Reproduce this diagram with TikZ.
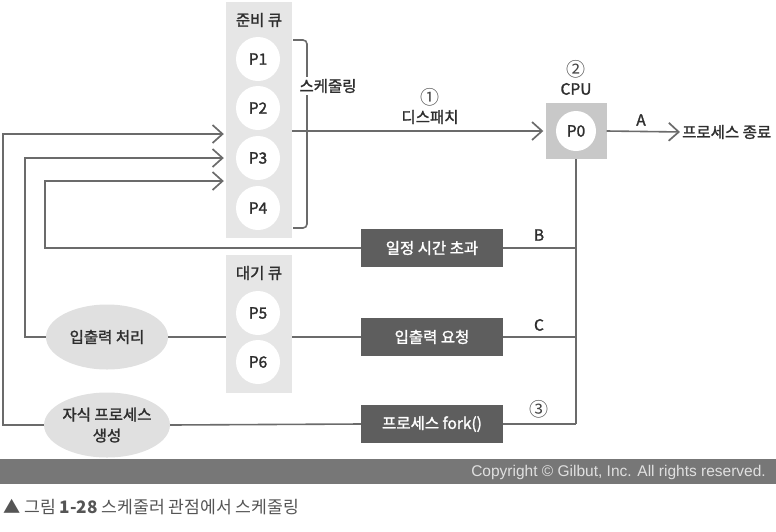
\documentclass[tikz,border=0pt]{standalone}
\usepackage{fontspec}
\setmainfont{Noto Sans CJK KR}
\newfontfamily\medfont{Noto Sans CJK KR}[FakeBold=1.6]
\newfontfamily\arialfont{Liberation Sans}
\usetikzlibrary{arrows.meta,shapes.geometric}
\definecolor{linegray}{HTML}{6B6B6B}
\definecolor{boxgray}{HTML}{5E5E5E}
\definecolor{panelgray}{HTML}{E6E6E6}
\definecolor{ellgray}{HTML}{E0E0E0}
\definecolor{cpugray}{HTML}{C8C8C8}
\definecolor{txt}{HTML}{2E2E2E}
\definecolor{numcol}{HTML}{444444}
\definecolor{barcol}{HTML}{777777}
\definecolor{capcol}{HTML}{555555}
\begin{document}
\begin{tikzpicture}[x=1pt,y=-1pt,
  every node/.style={text=txt, font=\medfont\fontsize{15.5}{18}\selectfont},
  panel/.style={fill=panelgray, draw=none, minimum width=66, inner sep=0},
  proc/.style={circle, fill=white, minimum size=44, inner sep=0},
  darkbox/.style={fill=boxgray, text=white, minimum width=142, minimum height=38, inner sep=0},
  ell/.style={ellipse, fill=ellgray, minimum width=122, minimum height=65, inner sep=0, align=center, font=\medfont\fontsize{15.5}{21}\selectfont},
  conn/.style={draw=linegray, line width=1.6pt},
  arr/.style={conn, -{Straight Barb[length=10pt, width=18pt, line width=1.7pt]}, shorten >=2pt},
  lbl/.style={inner sep=1pt},
  num/.style={inner sep=1pt, font=\fontsize{19}{20}\selectfont, text=numcol}
]
\useasboundingbox (0,0) rectangle (776,531);

% panels
\node[panel, minimum height=236] (ready) at (259,120) {};

% ellipses and boxes
\node[ell] (ioproc) at (107,337) {입출력 처리};
\node[ell] (child) at (107,425) {자식 프로세스\\생성};
\node[darkbox] (timeout) at (432,248) {일정 시간 초과};
\node[darkbox] (ioreq) at (432,337) {입출력 요청};
\node[darkbox] (fork) at (432,424) {프로세스 fork()};

% line behind wait panel
\draw[conn] (ioproc.east) -- (ioreq.west);
\node[panel, minimum height=138] (wait) at (259,324) {};

\node[lbl] (readylbl) at (259,20) {준비 큐};
\node[lbl] (waitlbl) at (259,273) {대기 큐};
\node[proc] (p1) at (258,59) {P1};
\node[proc] (p2) at (258,108) {P2};
\node[proc] (p3) at (258,158) {P3};
\node[proc] (p4) at (258,208) {P4};
\node[proc] (p5) at (258,313) {P5};
\node[proc] (p6) at (258,362) {P6};

% bracket
\coordinate (bt1) at (293,40);
\coordinate (bt2) at (307,40);
\coordinate (bb2) at (307,228);
\coordinate (bb1) at (293,228);
\draw[conn, rounded corners=4pt] (bt1) -- (bt2) -- (bb2) -- (bb1);
\node[fill=white, inner sep=2pt] (sched) at (328,86) {스케줄링};

% CPU
\node[fill=cpugray, minimum width=61, minimum height=56, inner sep=0] (cpu) at (576,131) {};
\node[proc, minimum size=40] (p0) at (cpu.center) {P0};
\node[lbl] (cpulbl) at (576,89) {CPU};
\node[num] (n2) at (576,69) {②};

% dispatch
\draw[arr] (ready.east |- cpu.west) -- (cpu.west);
\node[num] (n1) at (430,97) {①};
\node[lbl] (disp) at (430,117) {디스패치};

% terminate
\node[anchor=west, inner sep=0] (term) at (682,132) {프로세스 종료};
\draw[arr] (cpu.east) -- (term.west);
\node[lbl] (la) at (641,120) {A};

% right bus
\coordinate (busend) at (fork.east -| cpu.south);
\draw[conn] (cpu.south) -- (busend);
\draw[conn] (timeout.east) -- (timeout.east -| cpu.south);
\draw[conn] (ioreq.east) -- (ioreq.east -| cpu.south);
\draw[conn] (fork.east) -- (busend);
\node[lbl] (lb) at (539,235) {B};
\node[lbl] (lc) at (539,325) {C};
\node[num] (n3) at (539,409) {③};

% feedback lines
\coordinate (tb) at (45,181);
\coordinate (ib) at (25,158);
\coordinate (cb) at (3,134);
\draw[arr] (timeout.west) -| (tb) -- (ready.west |- tb);
\draw[arr] (ioproc.west) -| (ib) -- (ready.west |- ib);
\draw[arr] (child.west) -| (cb) -- (ready.west |- cb);
\draw[conn] (child.east) -- (fork.west);

% copyright bar
\fill[barcol] (0,459) rectangle (776,484);
\node[anchor=east, inner sep=0, text=white!88!black, font=\arialfont\fontsize{15.5}{17}\selectfont] (copy) at (766,472) {Copyright © Gilbut, Inc. All rights reserved.};

% caption
\node[anchor=west, inner sep=0, text=capcol, font=\fontsize{17.2}{19}\selectfont] (cap) at (3,507) {▲ 그림 \textbf{1-28} 스케줄러 관점에서 스케줄링};
\end{tikzpicture}
\end{document}
